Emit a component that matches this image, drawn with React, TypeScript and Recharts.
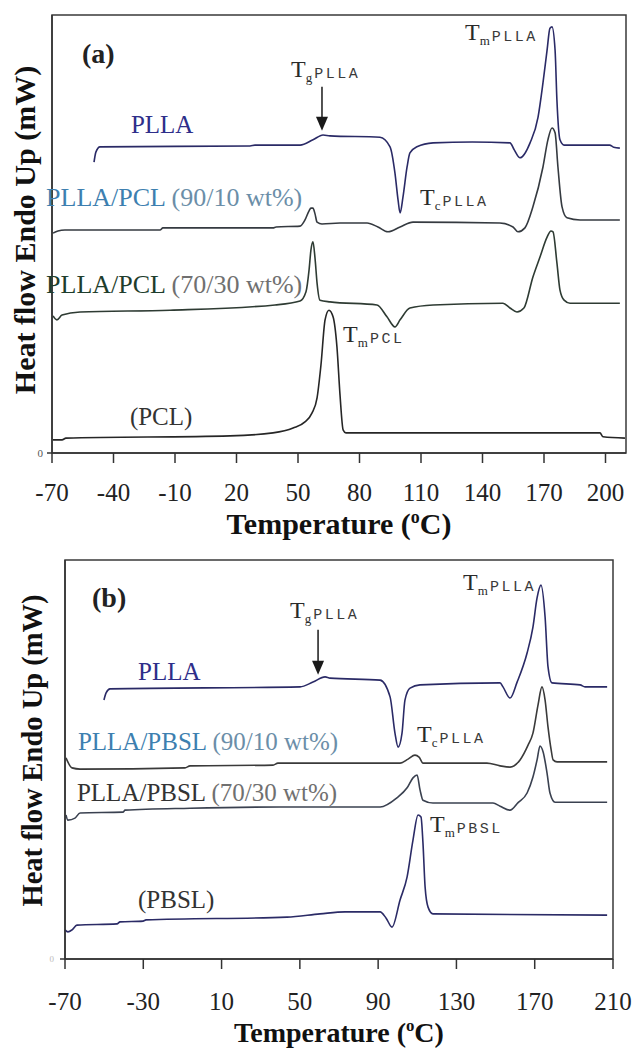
import React from "react";
import { LineChart, Line, XAxis, YAxis, ReferenceArea, ReferenceDot } from "recharts";

const serif = "'Liberation Serif', 'Times New Roman', Times, serif";
const mono = "'Liberation Mono', 'Courier New', monospace";

// temperature ticks (°C)
const ticksA = [-70, -40, -10, 20, 50, 80, 110, 140, 170, 200];
const ticksB = [-70, -30, 10, 50, 90, 130, 170, 210];

// (a) PLLA / PCL — [temperature °C, heat flow (arb. units, 0..100 over the frame)]
const pllaA = [
  [-49.5, 66.4], [-48.6, 68.7], [-46.6, 69.9], [26.6, 70.1], [29, 70.3], [51, 70.3], [57.3, 71.5],
  [62.2, 72.6], [65.6, 72.4], [90, 72.1], [94.9, 69.9], [97.3, 63.9], [98.8, 57.8], [99.8, 54.8],
  [101.2, 58.4], [103.2, 65.3], [104.6, 68.5], [108, 69.9], [115.9, 70.8], [135, 71.0], [153.4, 70.8],
  [155.5, 69.2], [158.3, 67.4], [163.2, 70.8], [167.1, 76.7], [169.5, 84.5], [171.5, 92.0], [172.9, 97.0],
  [173.9, 97.3], [175.4, 92.0], [176.3, 80.6], [177.8, 71.5], [179.8, 70.3], [202, 70.3], [204, 69.8], [207, 69.6],
];
const pcl90A = [
  [-69.5, 50.2], [-67.1, 50.7], [-63.7, 50.9], [-17.3, 50.9], [-15.9, 51.4], [37.8, 51.4], [39.3, 51.6],
  [51, 51.8], [53.4, 53.2], [55.4, 55.3], [56.3, 55.9], [57.3, 55.9], [58.3, 54.6], [59.3, 52.7], [61.7, 52.3],
  [70.5, 52.5], [83.7, 52.5], [89, 51.6], [93.9, 50.5], [99.8, 51.6], [106.1, 52.7], [148.5, 52.5],
  [154.9, 51.6], [157.3, 50.5], [160.7, 51.4], [164.6, 56.2], [169.5, 65.3], [171.9, 71.5], [173.9, 74.2],
  [175.4, 73.1], [176.8, 65.3], [178.8, 56.2], [181.2, 53.7], [187.6, 53.2], [207, 53.2],
];
const pcl70A = [
  [-69.5, 31.3], [-67.6, 30.4], [-65.1, 31.5], [-56.3, 32.2], [-12.4, 32.6], [38.8, 33.8], [51, 34.7],
  [53.9, 36.8], [55.4, 41.8], [56.3, 46.3], [57.3, 48.2], [58.3, 44.5], [59.3, 38.8], [60.7, 34.9],
  [65.6, 34.5], [88.5, 33.8], [93.4, 31.1], [97.3, 28.8], [99.8, 30.4], [104.6, 33.1], [115.9, 33.8],
  [150, 34.2], [153.4, 33.1], [156.8, 32.2], [160.2, 33.1], [164.6, 40.2], [168, 44.7], [171.5, 49.3],
  [173.4, 50.7], [174.4, 50.5], [176.3, 43.4], [177.8, 37.2], [179.8, 34.9], [182.7, 34.2], [207, 34.2],
];
const pclA = [
  [-69.5, 3.0], [-65.1, 3.0], [-63.2, 3.4], [16.8, 3.9], [37.8, 4.6], [47.6, 5.7], [53.4, 7.1], [56.8, 9.1],
  [59.3, 12.6], [61.2, 20.1], [63.2, 30.4], [65.1, 32.6], [67.1, 31.1], [69, 24.2], [70.5, 13.2], [72, 5.3],
  [73.4, 4.6], [197.3, 4.6], [198.8, 3.7], [209.5, 3.4],
];

// (b) PLLA / PBSL
const pllaB = [
  [-50.1, 64.9], [-49, 66.7], [-47, 67.7], [50.1, 68.2], [56.7, 69.4], [62.9, 70.7], [65.4, 70.4], [91, 69.9],
  [96.1, 65.7], [98.6, 56.6], [100.2, 53.1], [102.2, 56.6], [103.7, 64.9], [106.3, 67.9], [111.4, 68.7],
  [152.3, 69.2], [153.8, 68.2], [157.4, 65.4], [161, 69.4], [166.1, 76.7], [169.1, 83.2], [171.2, 90.5],
  [173.2, 93.7], [175.3, 85.7], [176.8, 73.2], [178.8, 69.2], [193.2, 68.7], [195.7, 68.2], [207, 68.2],
];
const pbsl90B = [
  [-69.5, 50.4], [-66.4, 47.9], [-62.3, 47.6], [-8.7, 47.9], [-6.1, 48.4], [36.3, 48.6], [38.8, 49.1],
  [101.2, 49.1], [105.3, 50.1], [108.8, 51.1], [110.9, 50.6], [112.9, 49.1], [145.6, 49.1], [152.3, 48.4],
  [157.4, 48.1], [162.5, 49.9], [166.6, 53.6], [169.1, 56.6], [171.7, 63.7], [173.7, 68.2], [175.3, 64.9],
  [176.8, 58.1], [178.4, 52.4], [179.4, 49.9], [181.4, 49.4], [207, 49.4],
];
const pbsl70B = [
  [-69.5, 36.1], [-68.5, 34.8], [-64.9, 35.3], [-62.3, 36.6], [-40.4, 36.8], [-39.3, 37.3], [-6.1, 37.8],
  [39.9, 38.1], [91, 38.1], [99.6, 40.4], [104.8, 42.9], [107.8, 45.4], [109.9, 46.1], [111.4, 42.4],
  [112.9, 39.8], [118, 39.1], [148.7, 39.1], [152.3, 38.3], [157.4, 37.3], [161.5, 39.2], [166.1, 41.6],
  [169.1, 45.6], [171.2, 49.9], [172.7, 53.4], [174.3, 51.9], [176.3, 46.6], [177.8, 41.6], [180.4, 39.3], [207, 39.3],
];
const pbslB = [
  [-70, 7.3], [-68.5, 6.8], [-66.4, 7.3], [-63.9, 8.5], [-43.4, 8.8], [-41.9, 9.3], [-30.1, 9.5], [-28.6, 9.8],
  [43.4, 10.5], [60.3, 11.3], [73.1, 11.8], [91, 11.8], [94, 10.3], [97.1, 8.0], [101.2, 14.8], [104.8, 20.6],
  [107.8, 29.8], [110.4, 36.1], [111.9, 35.6], [112.9, 29.1], [114, 18.0], [115.5, 13.0], [118, 11.3], [207, 11.0],
];

const toPts = (rows: number[][]) => rows.map(([t, v]) => ({ t, v }));

type Draw = (x: number, y: number) => React.ReactElement;

// text/arrow anchored at a data point
function note(key: string, t: number, v: number, draw: Draw) {
  return (
    <ReferenceDot
      key={key}
      x={t}
      y={v}
      r={0}
      fill="none"
      stroke="none"
      ifOverflow="visible"
      label={(p: any) => {
        const vb = (p && p.viewBox) || {};
        return draw(vb.x ?? 0, vb.y ?? 0);
      }}
    />
  );
}

const plain = (text: string, color: string, size = 25, weight = "normal"): Draw => (x, y) => (
  <text x={x} y={y} fontFamily={serif} fontSize={size} fontWeight={weight} fill={color}>
    {text}
  </text>
);

const twoTone = (a: string, ca: string, b: string, cb: string, size: number): Draw => (x, y) => (
  <text x={x} y={y} fontFamily={serif} fontSize={size}>
    <tspan fill={ca}>{a}</tspan>
    <tspan fill={cb}>{b}</tspan>
  </text>
);

const tempLabel = (sub: string, tail: string): Draw => (x, y) => (
  <text x={x} y={y} fontFamily={serif} fill="#2a2a2a">
    <tspan fontSize={24}>T</tspan>
    <tspan fontSize={13} dy={5}>{sub}</tspan>
    <tspan fontFamily={mono} fontSize={15} letterSpacing={2.5} dx={2} dy={-4} fill="#3a3a3a">
      {tail}
    </tspan>
  </text>
);

const arrow = (len: number): Draw => (x, y) => (
  <g>
    <line x1={x} y1={y} x2={x} y2={y + len - 12} stroke="#1a1a1a" strokeWidth={1.5} />
    <polygon points={`${x - 6},${y + len - 14} ${x + 6},${y + len - 14} ${x},${y + len}`} fill="#1a1a1a" />
  </g>
);

const xTitle = (dy: number, size: number) => (p: any) => {
  const vb = (p && p.viewBox) || { x: 0, y: 0, width: 0 };
  return (
    <text x={vb.x + vb.width / 2} y={vb.y + dy} textAnchor="middle" fontFamily={serif} fontWeight="bold" fontSize={size} fill="#111">
      Temperature (<tspan fontSize={size * 0.6} dy={-11}>o</tspan>
      <tspan dy={11}>C)</tspan>
    </text>
  );
};

const yTitle = (bx: number, shift: number, size: number) => (p: any) => {
  const vb = (p && p.viewBox) || { y: 0, height: 0 };
  const cy = vb.y + vb.height / 2 + shift;
  return (
    <text x={bx} y={cy} transform={`rotate(-90 ${bx} ${cy})`} textAnchor="middle" fontFamily={serif} fontWeight="bold" fontSize={size} fill="#111">
      Heat flow Endo Up (mW)
    </text>
  );
};

const tickStyle = { fontSize: 25, fontFamily: serif, fill: "#222" };

const line = (key: string, rows: number[][], color: string) => (
  <Line
    key={key}
    data={toPts(rows)}
    dataKey="v"
    type="monotone"
    dot={false}
    activeDot={false}
    stroke={color}
    strokeWidth={1.6}
    isAnimationActive={false}
  />
);

export default function App() {
  return (
    <div style={{ position: "absolute", left: 0, top: 0, width: 635, height: 1049, background: "#fff", overflow: "hidden" }}>
      <div style={{ position: "absolute", left: 0, top: 0 }}>
        <LineChart width={635} height={545} margin={{ top: 15, right: 9, bottom: 0, left: 0 }}>
          <XAxis
            dataKey="t"
            type="number"
            domain={[-70, 210]}
            ticks={ticksA}
            interval={0}
            tick={tickStyle}
            tickSize={10}
            tickMargin={20}
            height={92}
            stroke="#333"
            strokeWidth={1.5}
            label={{ content: xTitle(81, 30) }}
          />
          <YAxis
            type="number"
            domain={[0, 100]}
            ticks={[0]}
            width={52}
            tick={{ fontSize: 11, fontFamily: serif, fill: "#555" }}
            tickSize={5}
            tickMargin={4}
            stroke="#333"
            strokeWidth={1.5}
            label={{ content: yTitle(35, -4, 30) }}
          />
          <ReferenceArea x1={-70} x2={210} y1={0} y2={100} fill="none" stroke="#3a3a3a" strokeWidth={1.5} />
          {line("plla", pllaA, "#2a2a66")}
          {line("p90", pcl90A, "#353a40")}
          {line("p70", pcl70A, "#2e3b33")}
          {line("pcl", pclA, "#262626")}
          {note("a", -55.4, 89.0, plain("(a)", "#222", 28, "bold"))}
          {note("plla", -31.5, 73.1, plain("PLLA", "#2e2e8a"))}
          {note("l90", -72.9, 56.4, twoTone("PLLA/PCL", "#3d7fb0", " (90/10 wt%)", "#6b8ea8", 26))}
          {note("l70", -72.9, 36.5, twoTone("PLLA/PCL", "#1e3d2c", " (70/30 wt%)", "#707070", 26))}
          {note("pcl", -32, 6.4, plain("(PCL)", "#333"))}
          {note("tg", 46.6, 85.8, tempLabel("g", "PLLA"))}
          {note("tgArrow", 61.7, 83.6, arrow(44))}
          {note("tm", 131.5, 94.3, tempLabel("m", "PLLA"))}
          {note("tc", 109.5, 56.6, tempLabel("c", "PLLA"))}
          {note("tmpcl", 72, 25.3, tempLabel("m", "PCL"))}
        </LineChart>
      </div>
      <div style={{ position: "absolute", left: 0, top: 545 }}>
        <LineChart width={635} height={504} margin={{ top: 15, right: 22, bottom: 0, left: 0 }}>
          <XAxis
            dataKey="t"
            type="number"
            domain={[-70, 210]}
            ticks={ticksB}
            interval={0}
            tick={tickStyle}
            tickSize={10}
            tickMargin={23}
            height={90}
            stroke="#333"
            strokeWidth={1.5}
            label={{ content: xTitle(83, 28) }}
          />
          <YAxis
            type="number"
            domain={[0, 100]}
            ticks={[0]}
            width={65}
            tick={{ fontSize: 9, fontFamily: serif, fill: "#bbb" }}
            tickSize={5}
            tickMargin={6}
            stroke="#333"
            strokeWidth={1.5}
            label={{ content: yTitle(42, -9, 28.5) }}
          />
          <ReferenceArea x1={-70} x2={210} y1={0} y2={100} fill="none" stroke="#3a3a3a" strokeWidth={1.5} />
          {line("plla", pllaB, "#2a2a66")}
          {line("b90", pbsl90B, "#3a3a3a")}
          {line("b70", pbsl70B, "#3a4150")}
          {line("pbsl", pbslB, "#2b2b66")}
          {note("b", -56.2, 88.2, plain("(b)", "#222", 28, "bold"))}
          {note("plla", -32.7, 69.9, plain("PLLA", "#2e2e8a"))}
          {note("l90", -63.4, 52.4, twoTone("PLLA/PBSL", "#3d7fb0", " (90/10 wt%)", "#6b8ea8", 25))}
          {note("l70", -63.9, 39.6, twoTone("PLLA/PBSL", "#333", " (70/30 wt%)", "#707070", 25))}
          {note("pbsl", -32.7, 12.8, plain("(PBSL)", "#333"))}
          {note("tg", 45, 85.5, tempLabel("g", "PLLA"))}
          {note("tgArrow", 59.3, 82.5, arrow(45))}
          {note("tm", 133.4, 92.5, tempLabel("m", "PLLA"))}
          {note("tc", 109.9, 54.4, tempLabel("c", "PLLA"))}
          {note("tmpbsl", 116.5, 31.8, tempLabel("m", "PBSL"))}
        </LineChart>
      </div>
    </div>
  );
}
